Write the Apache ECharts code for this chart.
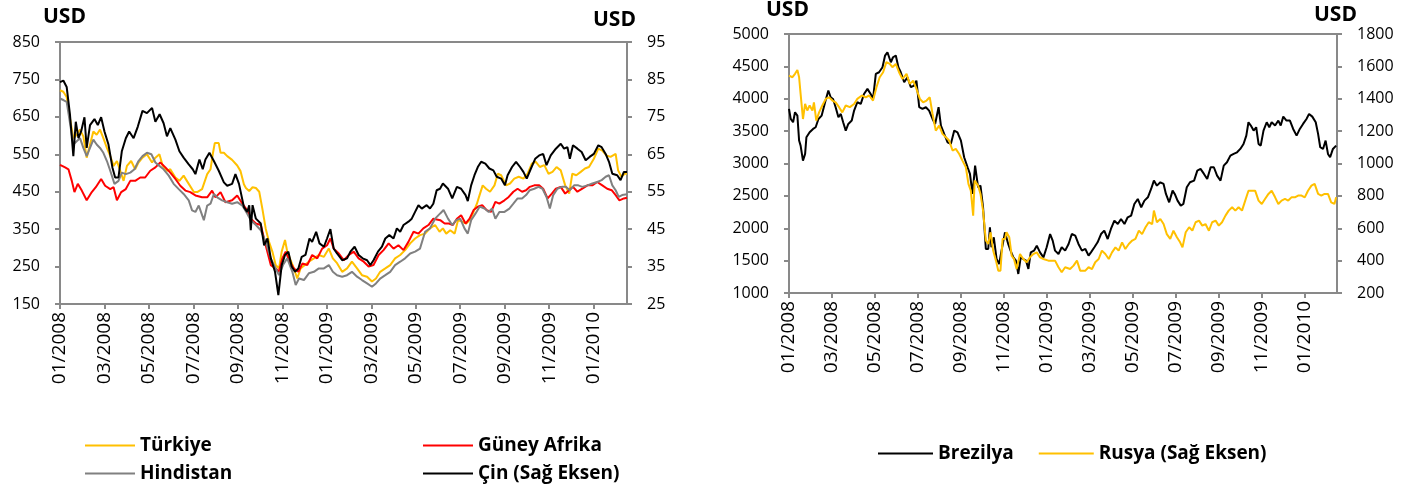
<!DOCTYPE html>
<html><head><meta charset="utf-8">
<script src="https://cdn.jsdelivr.net/npm/echarts@6/dist/echarts.min.js"></script>
<style>html,body{margin:0;padding:0;background:#fff}#c{width:1426px;height:490px}</style>
</head><body><div id="c"></div>
<script>
// x values: months elapsed since 01/2008
const xTickLabels = ['01/2008','03/2008','05/2008','07/2008','09/2008','11/2008','01/2009','03/2009','05/2009','07/2009','09/2009','11/2009','01/2010'];

// Left chart (left axis, USD)
const turkiye = [[0,721],[0.15,717],[0.30,703],[0.45,646],[0.60,593],[0.75,602],[0.90,616],[1.05,598],[1.20,541],[1.35,576],[1.50,611],[1.65,602],[1.80,616],[1.95,593],[2.11,567],[2.26,545],[2.41,519],[2.56,532],[2.71,506],[2.86,479],[3.01,519],[3.20,532],[3.38,510],[3.53,528],[3.71,541],[3.91,550],[4.14,528],[4.29,541],[4.47,550],[4.62,519],[4.81,506],[4.96,510],[5.19,488],[5.37,479],[5.56,493],[5.79,471],[6.02,449],[6.17,449],[6.39,457],[6.62,497],[6.77,510],[6.87,550],[6.96,580],[7.14,580],[7.22,554],[7.37,554],[7.52,545],[7.74,535],[7.97,520],[8.12,505],[8.27,470],[8.36,460],[8.51,452],[8.66,462],[8.81,460],[8.96,450],[9.10,405],[9.25,352],[9.40,316],[9.55,290],[9.70,254],[9.85,245],[9.97,290],[10.12,321],[10.22,290],[10.37,267],[10.52,245],[10.67,218],[10.82,245],[11.01,254],[11.19,263],[11.42,272],[11.64,281],[11.87,276],[12.09,298],[12.27,272],[12.46,259],[12.69,236],[12.91,245],[13.13,263],[13.36,245],[13.58,227],[13.81,223],[14.03,210],[14.21,218],[14.40,236],[14.63,245],[14.85,254],[15.07,272],[15.30,281],[15.52,294],[15.75,312],[15.97,325],[16.19,334],[16.42,338],[16.64,352],[16.87,361],[17.07,343],[17.22,352],[17.37,338],[17.55,347],[17.75,338],[17.90,374],[18.09,370],[18.27,365],[18.42,374],[18.57,392],[18.75,418],[18.87,441],[19.01,467],[19.16,458],[19.34,450],[19.54,467],[19.69,498],[19.84,494],[20.06,467],[20.24,472],[20.43,485],[20.63,490],[20.84,485],[21.03,498],[21.22,525],[21.40,530],[21.58,516],[21.78,521],[21.97,498],[22.15,503],[22.33,516],[22.52,507],[22.72,467],[22.90,445],[23.04,498],[23.22,494],[23.42,503],[23.61,512],[23.79,516],[24.01,538],[24.21,565],[24.39,560],[24.57,547],[24.76,543],[24.99,551],[25.10,507],[25.25,490],[25.40,498],[25.5,498]];
const guneyAfrika = [[0,522],[0.23,515],[0.38,510],[0.53,479],[0.65,449],[0.80,471],[0.98,453],[1.20,427],[1.43,449],[1.61,462],[1.85,484],[2.03,466],[2.26,457],[2.41,462],[2.56,427],[2.75,449],[2.96,457],[3.16,479],[3.38,479],[3.61,488],[3.83,488],[4.06,506],[4.29,515],[4.51,528],[4.74,515],[4.96,501],[5.19,484],[5.41,466],[5.64,453],[5.86,449],[6.09,440],[6.39,435],[6.62,435],[6.84,453],[6.99,435],[7.22,449],[7.44,422],[7.74,427],[7.97,440],[8.20,418],[8.42,400],[8.58,378],[8.81,365],[9.03,361],[9.25,307],[9.48,254],[9.70,245],[9.85,236],[10.0,272],[10.15,290],[10.33,263],[10.52,245],[10.72,236],[10.90,258],[11.12,254],[11.34,281],[11.57,272],[11.79,298],[12.01,307],[12.16,325],[12.31,298],[12.54,285],[12.76,267],[12.99,281],[13.21,290],[13.43,272],[13.66,263],[13.88,250],[14.10,254],[14.33,281],[14.55,294],[14.78,312],[15.0,298],[15.22,307],[15.45,294],[15.67,316],[15.90,343],[16.12,338],[16.34,352],[16.57,361],[16.79,378],[17.10,374],[17.30,365],[17.49,365],[17.67,361],[17.85,378],[18.04,387],[18.24,365],[18.42,378],[18.60,401],[18.79,410],[18.99,414],[19.19,401],[19.39,396],[19.58,423],[19.76,418],[19.99,427],[20.18,436],[20.39,450],[20.58,458],[20.78,450],[20.96,454],[21.13,463],[21.33,467],[21.55,467],[21.73,458],[21.93,432],[22.12,445],[22.30,458],[22.52,463],[22.72,445],[22.90,454],[23.07,463],[23.27,450],[23.49,458],[23.72,467],[23.94,467],[24.16,476],[24.39,467],[24.61,458],[24.81,454],[24.99,441],[25.16,427],[25.36,432],[25.5,434]];
const hindistan = [[0,699],[0.15,695],[0.30,690],[0.45,633],[0.60,576],[0.75,585],[0.90,593],[1.05,567],[1.20,545],[1.35,567],[1.50,589],[1.65,576],[1.80,567],[1.95,554],[2.11,532],[2.26,506],[2.45,471],[2.63,479],[2.78,501],[2.96,497],[3.16,501],[3.35,510],[3.53,532],[3.71,545],[3.91,554],[4.11,550],[4.29,528],[4.47,519],[4.66,510],[4.89,493],[5.11,471],[5.34,457],[5.56,444],[5.79,427],[5.94,400],[6.09,396],[6.24,413],[6.47,374],[6.62,413],[6.77,418],[6.92,444],[7.07,435],[7.29,427],[7.52,422],[7.74,418],[7.97,422],[8.20,413],[8.42,391],[8.58,374],[8.81,361],[9.03,347],[9.25,316],[9.48,272],[9.70,245],[9.85,227],[10.03,254],[10.22,272],[10.45,236],[10.60,201],[10.75,218],[10.97,214],[11.19,232],[11.42,236],[11.64,245],[11.87,245],[12.09,254],[12.27,236],[12.46,227],[12.69,223],[12.91,227],[13.13,236],[13.36,223],[13.58,214],[13.81,205],[14.03,196],[14.21,205],[14.40,218],[14.63,227],[14.85,236],[15.07,254],[15.30,263],[15.52,272],[15.75,285],[15.97,290],[16.19,298],[16.42,343],[16.64,352],[16.87,378],[17.10,392],[17.25,401],[17.45,378],[17.64,361],[17.82,374],[18.0,378],[18.19,352],[18.34,338],[18.49,374],[18.69,392],[18.87,410],[19.09,405],[19.28,396],[19.43,405],[19.58,378],[19.76,396],[19.99,396],[20.21,405],[20.39,418],[20.58,432],[20.78,432],[20.96,441],[21.13,454],[21.33,458],[21.52,463],[21.70,458],[21.88,436],[22.03,405],[22.18,441],[22.37,458],[22.57,463],[22.75,463],[22.93,454],[23.12,467],[23.31,467],[23.49,463],[23.72,467],[23.94,472],[24.16,476],[24.36,481],[24.54,490],[24.69,494],[24.84,467],[24.99,454],[25.13,436],[25.28,441],[25.5,443]];
// Left chart, right axis (USD)
const cin = [[0,84.3],[0.15,84.7],[0.30,83.0],[0.45,75.5],[0.60,64.5],[0.71,73.7],[0.83,69.3],[0.95,71.1],[1.10,74.9],[1.20,66.7],[1.35,72.8],[1.55,74.4],[1.70,72.8],[1.85,74.9],[2.00,71.1],[2.18,67.6],[2.36,61.4],[2.48,58.8],[2.63,58.8],[2.78,65.8],[2.96,69.3],[3.11,71.1],[3.31,69.3],[3.50,72.4],[3.71,76.6],[3.91,76.0],[4.14,77.4],[4.29,73.7],[4.48,75.7],[4.66,73.3],[4.81,69.8],[4.96,72.0],[5.19,68.9],[5.37,65.8],[5.56,64.1],[5.79,62.3],[5.97,61.0],[6.09,59.7],[6.27,63.6],[6.42,61.0],[6.54,63.6],[6.72,65.4],[6.92,63.2],[7.14,60.6],[7.37,57.5],[7.52,56.6],[7.74,57.1],[7.89,59.7],[8.05,57.1],[8.27,50.9],[8.42,49.6],[8.51,51.4],[8.58,44.7],[8.66,51.4],[8.81,47.8],[9.03,46.5],[9.18,40.7],[9.33,42.5],[9.48,37.2],[9.67,33.6],[9.82,27.4],[9.97,35.4],[10.12,38.1],[10.27,39.0],[10.42,35.0],[10.57,33.6],[10.72,34.5],[10.87,37.6],[11.04,38.1],[11.22,42.5],[11.34,41.6],[11.52,44.3],[11.67,41.2],[11.87,40.3],[12.01,42.5],[12.16,45.0],[12.31,39.8],[12.46,38.5],[12.69,36.7],[12.91,37.2],[13.06,39.0],[13.25,40.3],[13.43,38.1],[13.61,37.2],[13.81,36.7],[13.96,35.4],[14.10,36.7],[14.30,39.0],[14.48,40.3],[14.63,42.5],[14.81,43.4],[15.0,42.5],[15.15,45.2],[15.30,44.3],[15.45,46.1],[15.67,47.0],[15.82,47.8],[15.97,49.6],[16.12,51.4],[16.27,50.5],[16.49,51.4],[16.64,50.5],[16.79,51.8],[16.94,55.4],[17.09,55.8],[17.22,57.2],[17.45,55.8],[17.64,53.2],[17.85,56.3],[18.04,55.8],[18.24,54.1],[18.34,52.5],[18.49,56.7],[18.64,59.4],[18.79,61.6],[18.94,63.0],[19.13,62.5],[19.31,61.2],[19.49,60.7],[19.64,59.0],[19.84,58.5],[20.01,56.7],[20.13,59.4],[20.33,61.6],[20.51,63.0],[20.69,61.6],[20.84,60.3],[20.99,58.5],[21.18,61.2],[21.37,63.8],[21.55,64.7],[21.73,65.1],[21.88,62.1],[22.07,64.7],[22.30,66.5],[22.52,67.8],[22.67,66.5],[22.82,66.9],[22.93,63.8],[23.07,67.4],[23.27,66.5],[23.46,65.6],[23.64,63.4],[23.82,64.3],[24.01,65.1],[24.21,67.4],[24.36,66.9],[24.54,65.1],[24.69,63.0],[24.84,59.8],[25.06,59.4],[25.21,58.1],[25.36,60.3],[25.5,60.3]];

// Right chart (left axis, USD)
const brezilya = [[0,3843],[0.08,3688],[0.19,3637],[0.28,3791],[0.39,3740],[0.47,3354],[0.54,3276],[0.65,3045],[0.75,3148],[0.81,3405],[0.96,3482],[1.12,3534],[1.24,3560],[1.37,3688],[1.52,3740],[1.68,3946],[1.83,4126],[1.94,4023],[2.05,3997],[2.17,3869],[2.30,3714],[2.41,3766],[2.52,3637],[2.64,3508],[2.76,3611],[2.92,3663],[3.03,3817],[3.18,3946],[3.34,3920],[3.49,4074],[3.65,4152],[3.80,4074],[3.91,3997],[4.04,4384],[4.19,4409],[4.35,4487],[4.47,4667],[4.58,4718],[4.74,4564],[4.84,4641],[4.97,4667],[5.09,4487],[5.20,4409],[5.36,4255],[5.51,4332],[5.67,4178],[5.82,4204],[5.93,4281],[6.06,3869],[6.21,3843],[6.37,3869],[6.52,3817],[6.68,3688],[6.80,3611],[6.96,3869],[7.07,3586],[7.22,3457],[7.38,3328],[7.53,3302],[7.69,3508],[7.84,3482],[8.0,3354],[8.15,3096],[8.31,2942],[8.42,2839],[8.54,2530],[8.66,2967],[8.69,2942],[8.80,2633],[8.91,2658],[9.03,2324],[9.16,1680],[9.27,1680],[9.35,2015],[9.42,1706],[9.53,1860],[9.66,1525],[9.78,1448],[9.89,1654],[10.05,1937],[10.20,1757],[10.31,1654],[10.44,1551],[10.56,1500],[10.67,1294],[10.78,1551],[10.90,1525],[11.03,1500],[11.14,1371],[11.25,1628],[11.40,1654],[11.53,1731],[11.68,1628],[11.84,1551],[11.99,1706],[12.15,1911],[12.27,1809],[12.38,1654],[12.54,1603],[12.69,1706],[12.85,1654],[13.01,1757],[13.16,1911],[13.32,1886],[13.47,1757],[13.63,1654],[13.79,1680],[13.94,1577],[14.05,1628],[14.21,1706],[14.36,1783],[14.52,1911],[14.67,1963],[14.83,1834],[14.98,1989],[15.14,2118],[15.30,2066],[15.45,2143],[15.61,2066],[15.76,2169],[15.92,2195],[16.07,2375],[16.23,2452],[16.39,2324],[16.54,2427],[16.70,2478],[16.85,2607],[16.98,2736],[17.12,2658],[17.28,2710],[17.43,2684],[17.54,2530],[17.69,2401],[17.85,2581],[17.95,2530],[18.08,2427],[18.23,2349],[18.35,2375],[18.51,2633],[18.66,2710],[18.85,2736],[19.0,2890],[19.15,2916],[19.31,2839],[19.46,2761],[19.62,2942],[19.77,2942],[19.92,2813],[20.08,2736],[20.23,2967],[20.38,3019],[20.54,3122],[20.69,3148],[20.85,3173],[21.0,3225],[21.15,3302],[21.28,3431],[21.38,3637],[21.49,3586],[21.62,3508],[21.74,3560],[21.85,3302],[21.95,3276],[22.08,3508],[22.23,3637],[22.35,3560],[22.46,3637],[22.62,3586],[22.77,3663],[22.88,3586],[23.0,3724],[23.15,3663],[23.31,3663],[23.46,3534],[23.62,3431],[23.77,3534],[23.92,3611],[24.08,3688],[24.2,3766],[24.35,3724],[24.51,3637],[24.62,3457],[24.72,3251],[24.85,3225],[24.97,3354],[25.08,3148],[25.18,3096],[25.31,3225],[25.46,3276]];
// Right chart, right axis (USD)
const rusya = [[0,1543],[0.16,1533],[0.28,1554],[0.39,1578],[0.47,1533],[0.54,1430],[0.65,1275],[0.75,1368],[0.85,1327],[0.96,1358],[1.09,1327],[1.16,1378],[1.27,1265],[1.40,1316],[1.55,1358],[1.71,1399],[1.86,1409],[2.02,1389],[2.17,1378],[2.33,1348],[2.48,1316],[2.64,1358],[2.83,1348],[3.03,1368],[3.18,1399],[3.39,1420],[3.57,1409],[3.73,1420],[3.91,1389],[4.07,1471],[4.22,1533],[4.38,1564],[4.53,1626],[4.69,1615],[4.81,1595],[4.97,1615],[5.12,1564],[5.28,1522],[5.47,1554],[5.62,1492],[5.78,1512],[5.93,1461],[6.09,1399],[6.24,1378],[6.40,1389],[6.55,1409],[6.68,1306],[6.83,1203],[6.99,1234],[7.14,1183],[7.30,1162],[7.45,1142],[7.61,1080],[7.76,1090],[7.92,1059],[8.07,1018],[8.23,977],[8.35,874],[8.46,832],[8.57,678],[8.64,894],[8.80,863],[8.91,812],[9.03,709],[9.16,524],[9.27,503],[9.38,575],[9.50,462],[9.63,400],[9.74,338],[9.84,338],[9.94,534],[10.05,534],[10.12,575],[10.25,544],[10.36,431],[10.47,410],[10.59,348],[10.75,441],[10.90,410],[11.06,390],[11.21,420],[11.37,441],[11.53,451],[11.68,420],[11.84,410],[12.07,400],[12.38,400],[12.54,359],[12.69,328],[12.85,359],[13.08,348],[13.24,369],[13.40,400],[13.55,338],[13.79,338],[13.94,359],[14.10,348],[14.25,390],[14.41,410],[14.56,462],[14.72,441],[14.88,410],[15.03,451],[15.19,482],[15.34,462],[15.50,513],[15.65,472],[15.81,503],[15.97,524],[16.12,534],[16.28,585],[16.43,564],[16.59,606],[16.74,637],[16.90,626],[16.98,709],[17.12,637],[17.28,657],[17.43,626],[17.58,564],[17.74,534],[17.89,585],[18.05,544],[18.20,513],[18.31,482],[18.46,575],[18.62,606],[18.77,585],[18.92,637],[19.08,647],[19.23,616],[19.38,626],[19.54,585],[19.69,637],[19.85,647],[20.0,616],[20.15,637],[20.31,678],[20.46,709],[20.62,730],[20.77,709],[20.92,730],[21.08,709],[21.23,771],[21.38,832],[21.54,832],[21.69,832],[21.85,771],[22.0,750],[22.15,781],[22.31,812],[22.46,832],[22.62,791],[22.77,750],[22.92,771],[23.08,781],[23.23,771],[23.38,791],[23.54,791],[23.69,802],[23.85,802],[24.0,791],[24.15,832],[24.31,863],[24.46,874],[24.62,812],[24.77,802],[24.92,812],[25.08,812],[25.23,760],[25.38,750],[25.46,791]];

const FONT = 'Open Sans';
const AX = '#898989';
const chart = echarts.init(document.getElementById('c'), null, {renderer: 'canvas'});

function xAxisCfg(gi) {
  return {
    type: 'value', gridIndex: gi, min: 0, max: 25.5, interval: 2,
    axisLine: {show: true, onZero: false, lineStyle: {color: AX, width: 2}},
    axisTick: {show: true, length: 5, lineStyle: {color: AX, width: 2}},
    splitLine: {show: false},
    axisLabel: {
      rotate: 90, margin: 8, color: '#000', fontFamily: FONT, fontSize: 19,
      showMaxLabel: false,
      formatter: v => (Math.abs(v / 2 - Math.round(v / 2)) < 1e-6 ? (xTickLabels[Math.round(v / 2)] || '') : '')
    }
  };
}
function yAxisCfg(gi, pos, min, max, interval) {
  return {
    type: 'value', gridIndex: gi, position: pos, min, max, interval,
    axisLine: {show: true, lineStyle: {color: AX, width: 2}},
    axisTick: {show: true, length: 5, lineStyle: {color: AX, width: 2}},
    splitLine: {show: false},
    axisLabel: {color: '#000', fontFamily: FONT, fontSize: 16, margin: 20, formatter: v => String(v)}
  };
}
function line(name, data, color, xi, yi, z) {
  return {name, type: 'line', xAxisIndex: xi, yAxisIndex: yi, data, symbol: 'none', showSymbol: false,
    lineStyle: {color, width: 2}, itemStyle: {color}, z, animation: false};
}

const legendText = {fontFamily: FONT, fontSize: 19, fontWeight: 'bold', color: '#000'};
function leg(names, left, top, w, gap) {
  return {data: names, orient: 'horizontal', left, top, itemWidth: w, itemHeight: 14, itemGap: gap,
    textStyle: legendText, icon: 'path://M0,6 L' + w + ',6 L' + w + ',8 L0,8 Z'};
}
chart.setOption({
  animation: false,
  grid: [
    {left: 60, top: 42, width: 567, height: 262, show: true, borderColor: AX, borderWidth: 2},
    {left: 789, top: 34, width: 548, height: 259, show: true, borderColor: AX, borderWidth: 2}
  ],
  xAxis: [xAxisCfg(0), xAxisCfg(1)],
  yAxis: [
    yAxisCfg(0, 'left', 150, 850, 100),
    yAxisCfg(0, 'right', 25, 95, 10),
    yAxisCfg(1, 'left', 1000, 5000, 500),
    yAxisCfg(1, 'right', 200, 1800, 200)
  ],
  legend: [
    leg(['Türkiye'], 80, 431, 50, 10),
    leg(['Hindistan'], 80, 459, 50, 10),
    leg(['Güney Afrika'], 418, 431, 50, 10),
    leg(['Çin (Sağ Eksen)'], 418, 459, 50, 10),
    leg(['Brezilya', 'Rusya (Sağ Eksen)'], 873, 439, 55, 25)
  ],
  graphic: [
    {type: 'text', left: 43, top: 7, style: {text: 'USD', font: 'bold 21px "Open Sans"', fill: '#000'}},
    {type: 'text', left: 593, top: 10, style: {text: 'USD', font: 'bold 21px "Open Sans"', fill: '#000'}},
    {type: 'text', left: 766, top: 0, style: {text: 'USD', font: 'bold 21px "Open Sans"', fill: '#000'}},
    {type: 'text', left: 1314, top: 5, style: {text: 'USD', font: 'bold 21px "Open Sans"', fill: '#000'}}
  ],
  series: [
    line('Türkiye', turkiye, '#FFC000', 0, 0, 2),
    line('Güney Afrika', guneyAfrika, '#FF0000', 0, 0, 3),
    line('Hindistan', hindistan, '#808080', 0, 0, 4),
    line('Çin (Sağ Eksen)', cin, '#000000', 0, 1, 5),
    line('Brezilya', brezilya, '#000000', 1, 2, 2),
    line('Rusya (Sağ Eksen)', rusya, '#FFC000', 1, 3, 3)
  ]
});
</script></body></html>
